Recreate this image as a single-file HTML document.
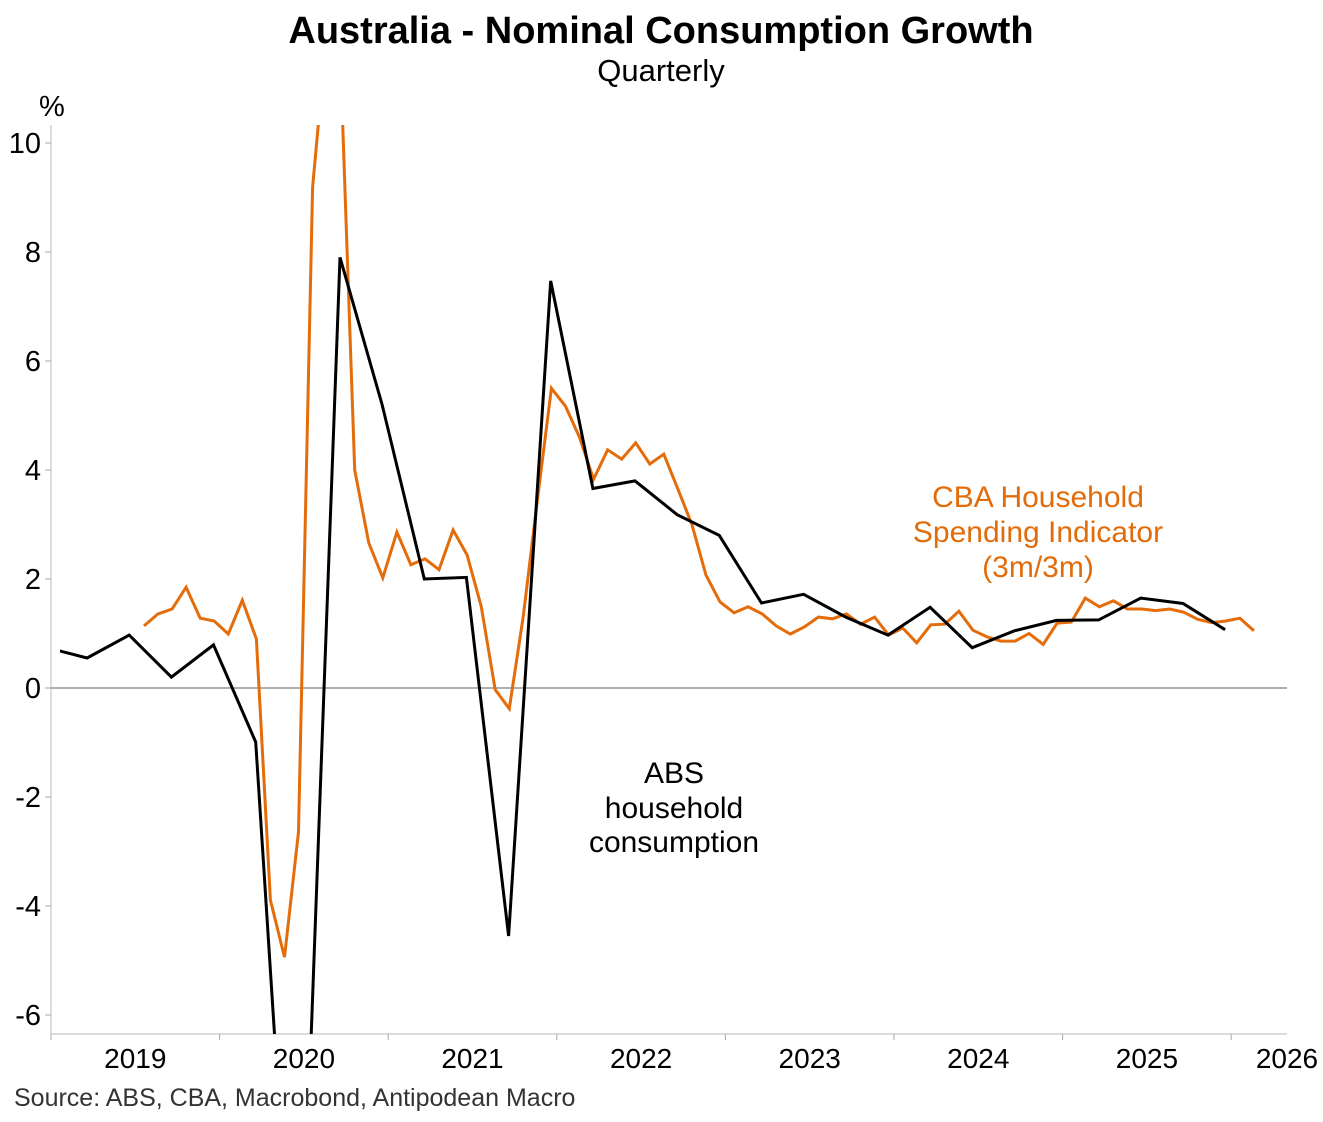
<!DOCTYPE html>
<html><head><meta charset="utf-8"><style>
html,body{margin:0;padding:0;background:#fff;overflow:hidden;width:1323px;height:1122px;}
svg{display:block;}
svg text{font-family:"Liberation Sans",Arial,sans-serif;}
</style></head><body>
<svg id="chart" width="1323" height="1122" xmlns="http://www.w3.org/2000/svg">
<text x="661" y="43" font-size="38" font-weight="bold" text-anchor="middle">Australia - Nominal Consumption Growth</text>
<text x="661" y="81" font-size="31" text-anchor="middle">Quarterly</text>
<text x="39" y="116" font-size="29">%</text>
<text x="14" y="1106" font-size="25" fill="#333">Source: ABS, CBA, Macrobond, Antipodean Macro</text>
<text text-anchor="middle" font-size="30" fill="#E36C0A"><tspan x="1038" y="507">CBA Household</tspan><tspan x="1038" y="542">Spending Indicator</tspan><tspan x="1038" y="577">(3m/3m)</tspan></text>
<text text-anchor="middle" font-size="30" fill="#000"><tspan x="674" y="783">ABS</tspan><tspan x="674" y="818">household</tspan><tspan x="674" y="852">consumption</tspan></text>
<g id="axes"></g>
<defs><clipPath id="plotclip"><rect x="60" y="125" width="1227" height="909"/></clipPath></defs>
<g id="series" clip-path="url(#plotclip)"></g>
</svg>
<script>
const yTicks=[-6,-4,-2,0,2,4,6,8,10];
const yearLabels=["2019","2020","2021","2022","2023","2024","2025","2026"];
const absValues=[0.75,0.55,0.97,0.2,0.79,-0.99,-13,7.9,5.2,2.0,2.03,-4.55,7.47,3.66,3.8,3.18,2.8,1.56,1.72,1.3,0.97,1.48,0.74,1.05,1.24,1.25,1.65,1.55,1.07];
const cbaValues=[1.14,1.36,1.45,1.85,1.28,1.23,0.99,1.61,0.9,-3.89,-4.94,-2.64,9.19,12.0,11.4,4.0,2.66,2.02,2.86,2.26,2.37,2.17,2.9,2.44,1.5,-0.03,-0.38,1.32,3.45,5.5,5.17,4.6,3.83,4.37,4.2,4.5,4.11,4.29,3.65,3.0,2.07,1.58,1.38,1.49,1.36,1.14,0.99,1.12,1.3,1.27,1.36,1.17,1.3,0.97,1.1,0.83,1.16,1.17,1.41,1.06,0.94,0.86,0.86,1.0,0.8,1.19,1.21,1.65,1.49,1.6,1.45,1.45,1.42,1.45,1.39,1.26,1.2,1.23,1.28,1.05];
const NS="http://www.w3.org/2000/svg";
const X0=51,YEARPX=168.6,XR=1287,YB=1034,YT=125;
function yS(v){return 688-v*54.5;}
function xT(t){return X0+(t-2019)*YEARPX;}
function absT(i){return 2019+0.214+0.25*(i-1);}
function cbaT(i){return 2019+(144-X0)/YEARPX+i/12;}
const axes=document.getElementById('axes');
function mk(tag,attrs,parent){const e=document.createElementNS(NS,tag);for(const k in attrs)e.setAttribute(k,attrs[k]);parent.appendChild(e);return e;}
let e=mk('line',{x1:X0,y1:YT,x2:X0,y2:YB,stroke:'#d0d0d0','stroke-width':1.5},axes);


e=mk('line',{x1:X0,y1:YB,x2:XR,y2:YB,stroke:'#d0d0d0','stroke-width':1.5},axes);


yTicks.forEach(v=>{
  const t=mk('line',{x1:X0-6,y1:yS(v),x2:X0,y2:yS(v),stroke:'#aaa','stroke-width':1},axes);
  
  
  const l=mk('text',{x:41,y:yS(v)+10,'font-size':29,'text-anchor':'end'},axes);
  l.textContent=String(v);
  
  
});
e=mk('line',{x1:X0,y1:yS(0),x2:XR,y2:yS(0),stroke:'#808080','stroke-width':1.2},axes);


yearLabels.forEach((yl,i)=>{
  const x=xT(2019+i);
  const t=mk('line',{x1:x,y1:YB,x2:x,y2:YB+6,stroke:'#aaa','stroke-width':1},axes);
  
  
  const lx=i===yearLabels.length-1?XR:xT(2019+i+0.5);
  const l=mk('text',{x:lx,y:1068,'font-size':28,'text-anchor':'middle'},axes);
  l.textContent=yl;
  
  
});
const series=document.getElementById('series');
const cbaPts=cbaValues.map((v,i)=>xT(cbaT(i)).toFixed(1)+','+yS(v).toFixed(1)).join(' ');
const cba=mk('polyline',{points:cbaPts,fill:'none',stroke:'#E46C0A','stroke-width':3,'stroke-linejoin':'miter'},series);


const absPts=absValues.map((v,i)=>xT(absT(i)).toFixed(1)+','+yS(v).toFixed(1)).join(' ');
const abs=mk('polyline',{points:absPts,fill:'none',stroke:'#000','stroke-width':3,'stroke-linejoin':'miter'},series);


</script>
</body></html>
